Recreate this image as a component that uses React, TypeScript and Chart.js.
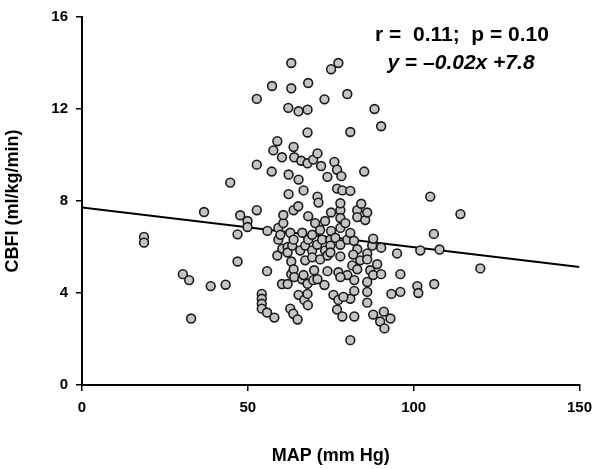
import React, { useEffect, useRef } from "react";
import { Chart, registerables } from "chart.js";

Chart.register(...registerables);

// MAP (mm Hg) values of each subject
const MAP = [
  18.7, 18.7, 30.4, 32.3, 32.9, 36.8, 38.8, 43.3, 44.7, 46.9, 46.9, 47.7, 49.9, 49.9,
  52.7, 52.7, 52.7, 54.2, 54.2, 54.2, 54.2, 55.8, 55.8, 55.9, 57.3, 57.2, 57.7, 58.0,
  58.9, 58.9, 59.2, 59.2, 59.8, 60.3, 60.3, 60.4, 60.7, 60.7, 62.0, 62.0, 62.0, 62.2,
  62.3, 62.3, 62.8, 62.8, 63.1, 63.1, 63.1, 63.1, 63.4, 63.7, 63.8, 63.8, 63.8, 63.8,
  64.0, 64.0, 65.0, 65.2, 65.3, 65.3, 65.3, 65.8, 66.1, 66.4, 66.4, 66.8, 66.8, 67.0,
  67.3, 67.3, 68.2, 68.0, 68.0, 68.0, 68.0, 68.0, 68.1, 68.2, 68.2, 69.4, 69.4, 69.4,
  69.7, 69.7, 70.0, 70.3, 70.9, 71.0, 71.0, 71.0, 71.3, 71.8, 71.8, 72.1, 72.4, 73.1,
  73.1, 73.3, 73.3, 74.0, 74.0, 74.0, 74.9, 74.9, 74.9, 75.1, 75.1, 75.1, 75.8, 76.1,
  76.4, 76.9, 76.9, 76.9, 77.3, 77.3, 77.3, 77.9, 77.9, 77.9, 77.9, 77.9, 77.9, 78.2,
  78.5, 78.5, 79.4, 80.0, 80.0, 80.0, 80.9, 80.9, 80.9, 80.9, 80.9, 81.5, 82.0, 82.1,
  82.1, 82.1, 83.0, 83.0, 83.0, 83.0, 84.2, 85.1, 85.4, 86.0, 86.0, 86.0, 86.0, 86.0,
  86.9, 87.5, 87.8, 87.8, 87.8, 88.2, 89.0, 89.9, 90.2, 90.2, 90.2, 91.0, 91.2, 93.0,
  93.3, 95.0, 96.0, 96.0, 101.1, 101.4, 102.0, 105.0, 106.1, 106.2, 107.8, 114.1, 120.1,
  83.9, 81.8, 86.0, 77.9, 78.8
];

// CBFI (ml/kg/min) values, same order as MAP
const CBFI = [
  6.44, 6.19, 4.82, 4.56, 2.89, 7.52, 4.30, 4.36, 8.80, 6.55, 5.37, 7.38, 7.13, 6.87,
  12.44, 9.58, 7.60, 3.96, 3.75, 3.53, 3.32, 3.15, 4.95, 6.70, 13.0, 9.28, 10.2, 2.93,
  10.6, 5.63, 6.83, 6.32, 6.53, 9.90, 4.39, 5.93, 7.04, 7.39, 4.39, 6.00, 5.76, 12.05,
  9.15, 8.30, 6.62, 3.32, 14.0, 12.9, 4.82, 5.37, 6.06, 3.10, 10.35, 7.60, 6.32, 5.03,
  9.90, 4.69, 2.85, 7.77, 11.9, 8.93, 3.92, 5.85, 9.75, 6.62, 4.60, 8.46, 4.78, 3.70,
  6.06, 5.42, 13.13, 11.97, 10.98, 9.64, 4.40, 3.96, 3.47, 7.34, 6.32, 6.53, 5.85, 5.55,
  9.80, 4.56, 4.99, 7.04, 6.10, 10.07, 8.19, 4.60, 7.93, 6.74, 5.46, 9.52, 6.32, 12.42,
  4.35, 7.13, 5.85, 9.05, 5.63, 4.95, 6.32, 6.06, 5.76, 13.73, 7.50, 6.70, 3.92, 9.70,
  6.40, 9.36, 8.54, 3.28, 14.0, 3.70, 4.90, 7.60, 6.83, 6.10, 5.59, 7.26, 7.90, 9.08,
  8.46, 2.98, 7.04, 12.65, 6.32, 4.78, 11.0, 8.44, 6.61, 3.75, 1.95, 5.20, 6.27, 4.56,
  4.09, 2.98, 7.60, 7.30, 5.90, 5.03, 7.88, 9.28, 7.17, 7.50, 5.72, 4.48, 4.05, 3.58,
  4.99, 6.06, 6.36, 4.78, 3.06, 12.0, 5.25, 2.76, 11.25, 5.97, 4.82, 3.19, 2.46, 2.89,
  3.96, 5.72, 4.82, 4.05, 4.30, 4.00, 5.85, 8.19, 6.57, 4.39, 5.89, 7.43, 5.07,
  5.42, 5.67, 5.46, 4.69, 3.83
];

// regression line end points (as drawn)
const FIT_X = [0, 150];
const FIT_Y = [7.72, 5.13];

const X_TITLE = "MAP (mm Hg)";
const Y_TITLE = "CBFI (ml/kg/min)";
const STAT_LINE = "r =  0.11;  p = 0.10";
const EQ_PARTS = ["y", " = \u2013", "0.02x +7.8"];

const FONT = '"Liberation Sans", Arial, sans-serif';

const annotationPlugin = {
  id: "statAnnotation",
  afterDraw(chart: any) {
    const ctx = chart.ctx as CanvasRenderingContext2D;
    ctx.save();
    ctx.fillStyle = "#000";
    ctx.textBaseline = "middle";
    ctx.textAlign = "center";
    ctx.font = `bold 21px ${FONT}`;
    ctx.fillText(STAT_LINE, 462, 35, 195);
    const fonts = [`italic bold 21px ${FONT}`, `bold 21px ${FONT}`, `italic bold 21px ${FONT}`];
    const widths = EQ_PARTS.map((t, i) => {
      ctx.font = fonts[i];
      return ctx.measureText(t).width;
    });
    const total = widths.reduce((a, b) => a + b, 0);
    let x = 461 - total / 2;
    ctx.textAlign = "left";
    EQ_PARTS.forEach((t, i) => {
      ctx.font = fonts[i];
      ctx.fillText(t, x, 63);
      x += widths[i];
    });
    ctx.restore();
  },
};

export default function App() {
  const ref = useRef<HTMLCanvasElement>(null);

  useEffect(() => {
    document.body.style.margin = "0";
    const canvas = ref.current;
    if (!canvas) return;
    const points = MAP.map((m, i) => ({ x: m, y: CBFI[i] }));
    const fit = FIT_X.map((x, i) => ({ x, y: FIT_Y[i] }));
    const chart = new Chart(canvas, {
      type: "scatter",
      data: {
        datasets: [
          {
            data: points,
            backgroundColor: "#c4c4c4",
            borderColor: "#1a1a1a",
            borderWidth: 1.6,
            pointRadius: 4.4,
            pointStyle: "circle",
          },
          {
            data: fit,
            showLine: true,
            borderColor: "#000",
            borderWidth: 2,
            pointRadius: 0,
            fill: false,
          } as any,
        ],
      },
      options: {
        responsive: false,
        animation: false,
        devicePixelRatio: 1,
        layout: { padding: { left: 0, right: 20, top: 11, bottom: 0 } },
        plugins: {
          legend: { display: false },
          tooltip: { enabled: false },
        },
        scales: {
          x: {
            type: "linear",
            min: 0,
            max: 150,
            afterFit: (s: any) => {
              s.height = 84;
            },
            ticks: {
              stepSize: 50,
              color: "#000",
              padding: 8,
              font: { family: FONT, size: 15, weight: "bold" },
            },
            grid: {
              drawOnChartArea: false,
              drawTicks: true,
              tickLength: 6,
              color: "#000",
              lineWidth: 1.5,
            },
            border: { display: true, color: "#000", width: 2 },
            title: {
              display: true,
              text: X_TITLE,
              color: "#000",
              font: { family: FONT, size: 18, weight: "bold" },
              padding: { top: 4, bottom: 2 },
            },
          },
          y: {
            type: "linear",
            min: 0,
            max: 16,
            afterFit: (s: any) => {
              s.width = 82;
            },
            ticks: {
              stepSize: 4,
              color: "#000",
              padding: 8,
              font: { family: FONT, size: 15, weight: "bold" },
            },
            grid: {
              drawOnChartArea: false,
              drawTicks: true,
              tickLength: 6,
              color: "#000",
              lineWidth: 1.5,
            },
            border: { display: true, color: "#000", width: 2 },
            title: {
              display: true,
              text: Y_TITLE,
              color: "#000",
              font: { family: FONT, size: 18, weight: "bold" },
              padding: { top: 2, bottom: 4 },
            },
          },
        },
      },
      plugins: [annotationPlugin],
    });
    return () => chart.destroy();
  }, []);

  return (
    <div style={{ position: "absolute", left: 0, top: 0, width: 600, height: 469, background: "#fff" }}>
      <canvas ref={ref} width={600} height={469} />
    </div>
  );
}
